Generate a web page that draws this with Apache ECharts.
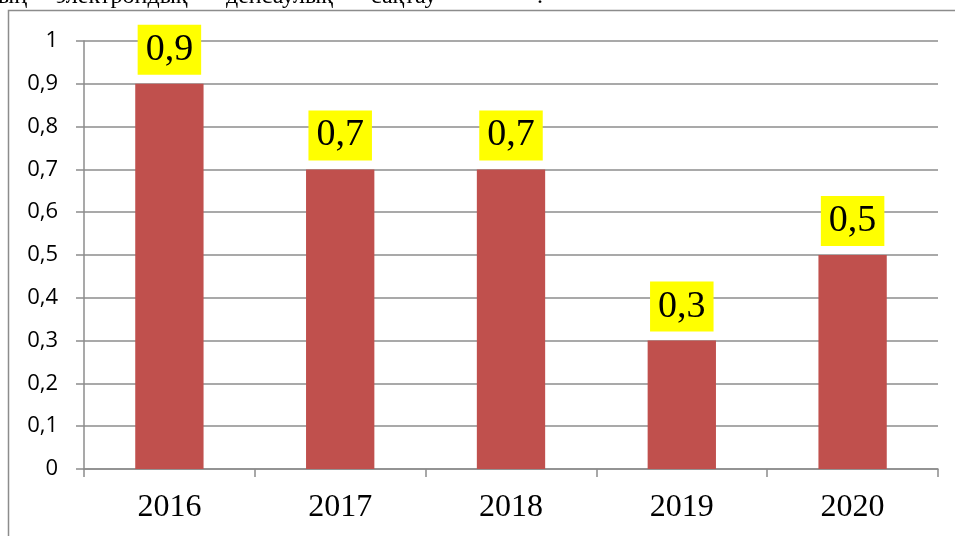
<!DOCTYPE html>
<html>
<head>
<meta charset="utf-8">
<script src="https://cdn.jsdelivr.net/npm/echarts@6/dist/echarts.min.js"></script>
<style>
  html, body { margin: 0; padding: 0; background: #fff; }
  #chart { width: 955px; height: 536px; }
</style>
</head>
<body>
<div id="chart"></div>
<script>
// Years and values shown on the bars
const years = ['2016', '2017', '2018', '2019', '2020'];
const values = [0.9, 0.7, 0.7, 0.3, 0.5];
// Caption fragments above the frame
const captionWords = ['ың', 'электрондық', 'денсаулық', 'сақтау', '.'];
const captionX = [-2, 56, 226, 371, 537];

const fmt = v => String(v).replace('.', ',');

const chart = echarts.init(document.getElementById('chart'), null, { renderer: 'canvas' });

const graphics = [
  {
    type: 'rect',
    shape: { x: 8.5, y: 10.5, width: 1200, height: 1200 },
    style: { fill: 'none', stroke: '#8c8c8c', lineWidth: 1.5 },
    silent: true,
    z: 0
  }
].concat(captionWords.map((w, i) => ({
  type: 'text',
  x: captionX[i],
  y: -15,
  style: {
    text: w,
    font: '24px "Liberation Serif", "Times New Roman", serif',
    fill: '#000',
    verticalAlign: 'top'
  },
  silent: true
})));

chart.setOption({
  animation: false,
  backgroundColor: '#fff',
  grid: { left: 84, right: 17, top: 41, bottom: 67, containLabel: false },
  graphic: graphics,
  xAxis: {
    type: 'category',
    data: years,
    axisLine: { show: true, lineStyle: { color: '#8c8c8c', width: 1.5 } },
    axisTick: { show: true, alignWithLabel: false, length: 8, lineStyle: { color: '#8c8c8c', width: 1.5 } },
    axisLabel: {
      margin: 23,
      color: '#000',
      fontFamily: '"Liberation Serif", "Times New Roman", serif',
      fontSize: 32
    },
    splitLine: { show: false }
  },
  yAxis: {
    type: 'value',
    min: 0,
    max: 1,
    interval: 0.1,
    axisLine: { show: true, lineStyle: { color: '#8c8c8c', width: 1.5 } },
    axisTick: { show: true, length: 8, lineStyle: { color: '#8c8c8c', width: 1.5 } },
    axisLabel: {
      margin: 26,
      color: '#000',
      fontFamily: '"Open Sans", sans-serif',
      fontSize: 22,
      formatter: v => fmt(Math.round(v * 10) / 10)
    },
    splitLine: { show: true, lineStyle: { color: '#8c8c8c', width: 1.5 } }
  },
  series: [{
    type: 'bar',
    data: values,
    barWidth: '40%',
    itemStyle: { color: '#C0504D' },
    label: {
      show: true,
      position: 'top',
      distance: 9,
      formatter: p => fmt(p.value),
      color: '#000',
      fontFamily: '"Liberation Serif", "Times New Roman", serif',
      fontSize: 38,
      lineHeight: 42,
      backgroundColor: '#FFFF00',
      padding: [4, 8, 4, 8]
    }
  }]
});
</script>
</body>
</html>
